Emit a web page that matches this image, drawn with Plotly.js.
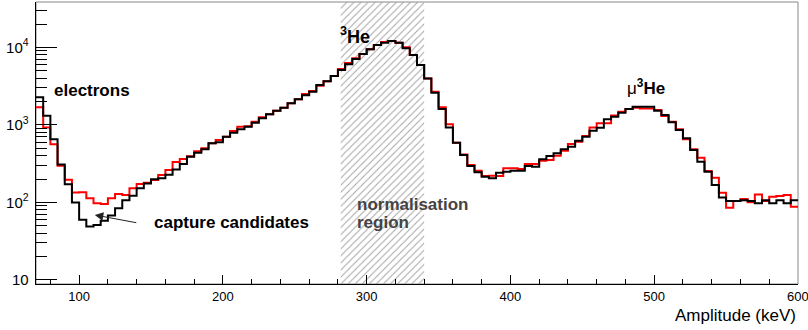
<!DOCTYPE html>
<html><head><meta charset="utf-8">
<script src="https://cdn.plot.ly/plotly-3.0.1.min.js"></script>
<style>html,body{margin:0;padding:0;background:#fff;overflow:hidden}#chart{width:808px;height:330px}</style>
</head><body><div id="chart"></div>
<script>
// Histogram binning (keV)
const binStart = 70;
const binWidth = 5;

// Counts per 5 keV bin, 70..600 keV (black = measured, red = reference)
const blackCounts = [2265,1313,651,308,172,100,60,49,51,58,
 68,84,107,122,152,176,199,205,228,266,
 313,389,437,484,578,596,703,793,877,946,
 1067,1216,1369,1525,1665,1897,2134,2404,2680,3266,
 3650,4266,5095,6040,7063,8190,9420,10720,11470,12050,
 11470,9710,7960,5915,3980,2600,1600,929,589,408,
 295,245,215,205,242,249,256,256,295,289,
 360,397,430,484,522,625,703,841,918,1180,
 1270,1434,1600,1714,1714,1714,1525,1340,1080,859,
 671,474,335,249,168,116,104,104,107,104,
 97.5,107,97.5,107,97.5,107];

const redCounts = [1683,929,561,298,196,134,135,113,97.5,95.5,
 113,128,125,152,173,180,194,226,262,332,
 363,395,456,499,578,638,703,834,946,960,
 1099,1251,1369,1525,1665,1897,2134,2500,2730,3200,
 3650,4266,5250,6300,7250,8190,9420,10720,11700,12050,
 11470,10000,7960,5915,3980,2680,1683,1016,589,416,
 304,256,219,221,219,275,275,270,313,313,
 345,352,400,464,566,607,718,929,1047,1047,
 1320,1479,1600,1665,1633,1633,1556,1300,1099,877,
 651,484,377,254,208,133,85.5,104,111,100.5,
 127,104,118.5,121,125,88];

const normRegion = [282, 340];
const xRange = [70, 600.03];
const yRangeLog = [0.948, 4.585];

function stepTrace(counts, color) {
  const x = counts.map((_, i) => binStart + i * binWidth);
  x.push(binStart + counts.length * binWidth);
  const y = counts.slice();
  y.push(counts[counts.length - 1]);
  return {x: x, y: y, type: 'scatter', mode: 'lines',
          line: {shape: 'hv', color: color, width: 2}, hoverinfo: 'skip', showlegend: false};
}

const yLo = Math.pow(10, yRangeLog[0] - 0.5), yHi = Math.pow(10, yRangeLog[1] + 0.5);
const hatch = {
  x: [normRegion[0], normRegion[1], normRegion[1], normRegion[0], normRegion[0]],
  y: [yLo, yLo, yHi, yHi, yLo],
  type: 'scatter', mode: 'none', fill: 'toself', fillcolor: 'rgba(0,0,0,0)',
  fillpattern: {shape: '/', fgcolor: '#a4a4a4', bgcolor: 'rgba(0,0,0,0)', size: 5, solidity: 0.2},
  hoverinfo: 'skip', showlegend: false
};

const FONT = 'Liberation Sans, Arial, Helvetica, sans-serif';

const layout = {
  width: 808, height: 330,
  margin: {l: 36, r: 10, t: 2, b: 46},
  paper_bgcolor: '#fff', plot_bgcolor: '#fff',
  font: {family: FONT, color: '#000', size: 13},
  showlegend: false,
  xaxis: {
    range: xRange, showgrid: false, zeroline: false,
    showline: true, linecolor: '#000', linewidth: 1,
    ticks: 'inside', ticklen: 9, tickcolor: '#000', tickwidth: 1,
    tickmode: 'linear', dtick: 100, tick0: 0,
    ticklabeloverflow: 'allow',
    tickfont: {size: 13, family: FONT},
    minor: {ticks: 'inside', ticklen: 5, dtick: 20, tickcolor: '#000', showgrid: false}
  },
  yaxis: {
    type: 'log', range: yRangeLog, showgrid: false, zeroline: false,
    showline: true, linecolor: '#000', linewidth: 1,
    ticks: 'inside', ticklen: 21, tickcolor: '#000', tickwidth: 1,
    dtick: 1, exponentformat: 'power',
    tickfont: {size: 12, family: FONT},
    ticklabelstandoff: 4,
    minor: {ticks: 'inside', ticklen: 11, dtick: 'D1', tickcolor: '#000', showgrid: false}
  },
  shapes: [
    {type: 'rect', xref: 'paper', yref: 'paper', x0: 0, x1: 1, y0: 0, y1: 1,
     line: {color: '#888', width: 1}, layer: 'below'}
  ],
  annotations: [
    {x: 81, y: 3.449, xref: 'x', yref: 'y', text: '<b>electrons</b>', showarrow: false,
     xanchor: 'left', yanchor: 'middle', font: {size: 17, family: FONT, color: '#000'}},
    {x: 150.6, y: 1.735, xref: 'x', yref: 'y', text: '<b>capture candidates</b>', showarrow: false,
     xanchor: 'left', yanchor: 'middle', font: {size: 17, family: FONT, color: '#000'}},
    {x: 110.9, y: 1.838, xref: 'x', yref: 'y', ax: 140.8, ay: 1.735, axref: 'x', ayref: 'y',
     text: '', showarrow: true, arrowhead: 2, arrowsize: 1.7, arrowwidth: 1, arrowcolor: '#222', standoff: 0},
    {x: 280, y: 4.158, xref: 'x', yref: 'y', text: '<b><sup>3</sup>He</b>', showarrow: false,
     xanchor: 'left', yanchor: 'middle', font: {size: 18, family: FONT, color: '#000'}},
    {x: 479.7, y: 3.488, xref: 'x', yref: 'y', text: 'μ<b><sup>3</sup>He</b>', showarrow: false,
     xanchor: 'left', yanchor: 'middle', font: {size: 17, family: FONT, color: '#000'}},
    {x: 292.3, y: 1.975, xref: 'x', yref: 'y', text: '<b>normalisation</b>', showarrow: false,
     xanchor: 'left', yanchor: 'middle', borderpad: 0, font: {size: 17, family: FONT, color: '#444'}},
    {x: 292.3, y: 1.745, xref: 'x', yref: 'y', text: '<b>region</b>', showarrow: false,
     xanchor: 'left', yanchor: 'middle', borderpad: 0, font: {size: 17, family: FONT, color: '#444'}},
    {x: 1, y: -0.11, xref: 'paper', yref: 'paper', text: 'Amplitude (keV)', showarrow: false,
     xanchor: 'right', yanchor: 'middle', font: {size: 17, family: FONT, color: '#000'}}
  ]
};

Plotly.newPlot('chart', [hatch, stepTrace(redCounts, '#ff0000'), stepTrace(blackCounts, '#000000')],
  layout, {staticPlot: true, displayModeBar: false});
</script>
</body></html>
